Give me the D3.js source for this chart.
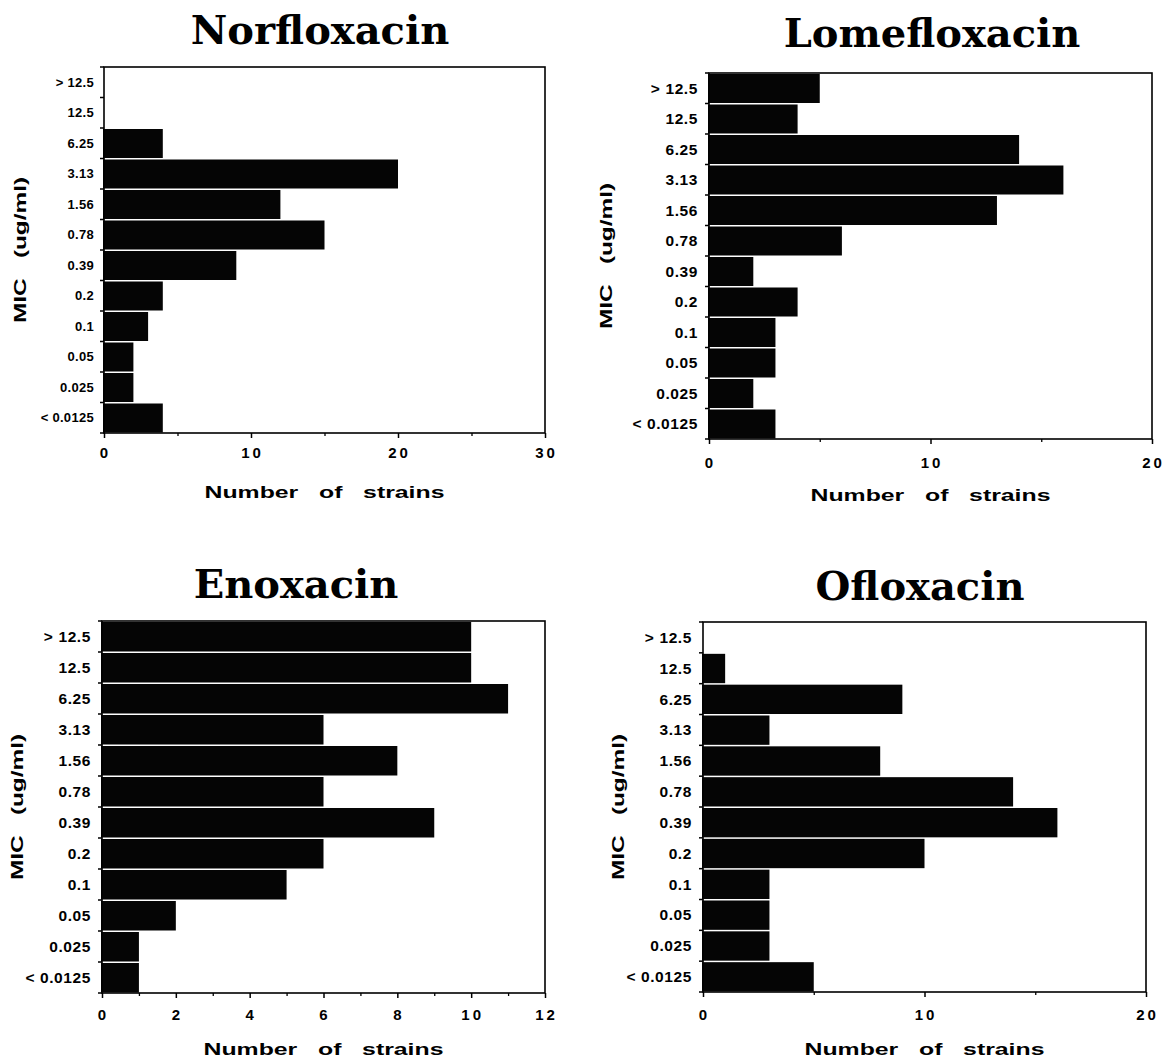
<!DOCTYPE html>
<html>
<head>
<meta charset="utf-8">
<script src="https://cdn.jsdelivr.net/npm/d3@7"></script>
<style>
  body { margin: 0; background: #fff; }
  svg { display: block; }
  .yLabel { font-family: "Liberation Sans", Arial, sans-serif; font-weight: bold; fill: #000; }
  .xLabel { font-family: "Liberation Sans", Arial, sans-serif; font-weight: bold; font-size: 15px; letter-spacing: 3px; fill: #000; }
  .axisTitle { font-family: "Liberation Sans", Arial, sans-serif; font-weight: bold; font-size: 17px; white-space: pre; fill: #000; }
  .drugTitle { font-family: "DejaVu Serif", "Liberation Serif", serif; font-weight: bold; font-size: 40px; fill: #000; }
</style>
</head>
<body>
<div class="chart"></div>
<script>
// MIC categories, top to bottom
const micLabels = ['> 12.5', '12.5', '6.25', '3.13', '1.56', '0.78', '0.39', '0.2', '0.1', '0.05', '0.025', '< 0.0125'];

// number of strains per MIC
const norfloxacin = [0, 0, 4, 20, 12, 15, 9, 4, 3, 2, 2, 4];
const lomefloxacin = [5, 4, 14, 16, 13, 6, 2, 4, 3, 3, 2, 3];
const enoxacin = [10, 10, 11, 6, 8, 6, 9, 6, 5, 2, 1, 1];
const ofloxacin = [0, 1, 9, 3, 8, 14, 16, 10, 3, 3, 3, 5];

// x tick labels
const ticks30 = [0, 10, 20, 30];
const ticks20 = [0, 10, 20];
const ticks12 = [0, 2, 4, 6, 8, 10, 12];
const minor30 = [5, 15, 25];
const minor20 = [5, 15];
const minor12 = [1, 3, 5, 7, 9, 11];

const panels = [
    { title: 'Norfloxacin', values: norfloxacin, xMax: 30, ticks: ticks30, minor: minor30,
      left: 104, right: 545, top: 67, bottom: 433, titleX: 320, titleY: 44,
      labelRight: 94, labelSize: 13, labelSpacing: 0.3, tickY: 458, xTitleY: 498, yTitleX: 20 },
    { title: 'Lomefloxacin', values: lomefloxacin, xMax: 20, ticks: ticks20, minor: minor20,
      left: 709, right: 1152, top: 73, bottom: 439, titleX: 932, titleY: 47,
      labelRight: 698, labelSize: 15.5, labelSpacing: 0.6, tickY: 468, xTitleY: 501, yTitleX: 606 },
    { title: 'Enoxacin', values: enoxacin, xMax: 12, ticks: ticks12, minor: minor12,
      left: 102, right: 545, top: 621, bottom: 993, titleX: 296, titleY: 598,
      labelRight: 91, labelSize: 15.5, labelSpacing: 0.6, tickY: 1020, xTitleY: 1055, yTitleX: 17 },
    { title: 'Ofloxacin', values: ofloxacin, xMax: 20, ticks: ticks20, minor: minor20,
      left: 703, right: 1146, top: 622, bottom: 992, titleX: 920, titleY: 600,
      labelRight: 692, labelSize: 15.5, labelSpacing: 0.6, tickY: 1020, xTitleY: 1055, yTitleX: 618 }
];

const svg = d3.select('.chart')
    .append('svg')
    .attr('width', 1168)
    .attr('height', 1063);

svg.append('rect').attr('width', 1168).attr('height', 1063).attr('fill', '#fff');

panels.forEach(function (p) {
    let g = svg.append('g').attr('class', 'panel');

    let xScale = d3.scaleLinear()
        .domain([0, p.xMax])
        .range([p.left, p.right]);

    let yScale = d3.scaleBand()
        .domain(micLabels)
        .range([p.top, p.bottom])
        .padding(0);

    // bars
    g.selectAll('.bar')
        .data(micLabels.map((d, i) => ({ label: d, value: p.values[i] })))
        .enter()
        .append('rect')
        .attr('class', 'bar')
        .attr('x', xScale(0) - 1)
        .attr('y', d => yScale(d.label) + 1)
        .attr('width', d => d.value > 0 ? xScale(d.value) - xScale(0) + 1 : 0)
        .attr('height', yScale.bandwidth() - 1.5)
        .attr('fill', '#050505');

    // frame
    g.append('rect')
        .attr('x', p.left)
        .attr('y', p.top)
        .attr('width', p.right - p.left)
        .attr('height', p.bottom - p.top)
        .attr('fill', 'none')
        .attr('stroke', '#000')
        .attr('stroke-width', 1.6);

    // left ticks on band edges
    let edges = micLabels.map(d => yScale(d)).concat([p.bottom]);
    g.selectAll('.yTick')
        .data(edges)
        .enter()
        .append('line')
        .attr('x1', p.left - 4)
        .attr('x2', p.left)
        .attr('y1', d => d)
        .attr('y2', d => d)
        .attr('stroke', '#000')
        .attr('stroke-width', 1.5);

    // y labels
    g.selectAll('.yLabel')
        .data(micLabels)
        .enter()
        .append('text')
        .attr('class', 'yLabel')
        .attr('x', p.labelRight)
        .attr('y', d => yScale(d) + yScale.bandwidth() / 2)
        .attr('dy', '0.36em')
        .attr('text-anchor', 'end')
        .attr('font-size', p.labelSize)
        .attr('letter-spacing', p.labelSpacing)
        .text(d => d);

    // x axis ticks
    let gx = g.append('g')
        .attr('transform', 'translate(0,' + p.bottom + ')')
        .call(d3.axisBottom(xScale).tickValues(p.ticks).tickSize(5).tickFormat(''));
    gx.select('.domain').remove();
    gx.selectAll('line').attr('stroke-width', 1.5);

    let gxMinor = g.append('g')
        .attr('transform', 'translate(0,' + p.bottom + ')')
        .call(d3.axisBottom(xScale).tickValues(p.minor).tickSize(3).tickFormat(''));
    gxMinor.select('.domain').remove();
    gxMinor.selectAll('line').attr('stroke-width', 1.3);

    g.selectAll('.xLabel')
        .data(p.ticks)
        .enter()
        .append('text')
        .attr('class', 'xLabel')
        .attr('x', d => xScale(d) + 1.5)
        .attr('y', p.tickY)
        .attr('text-anchor', 'middle')
        .text(d => d);

    // axis titles (wide, extended lettering as in the original)
    g.append('text')
        .attr('class', 'axisTitle')
        .attr('x', (p.left + p.right) / 2 - 120)
        .attr('y', p.xTitleY)
        .attr('textLength', 240)
        .attr('lengthAdjust', 'spacingAndGlyphs')
        .text('Number   of   strains');

    g.append('text')
        .attr('class', 'axisTitle')
        .attr('transform', 'translate(' + p.yTitleX + ',' + ((p.top + p.bottom) / 2) + ') rotate(-90)')
        .attr('x', -73)
        .attr('dy', '0.36em')
        .attr('textLength', 146)
        .attr('lengthAdjust', 'spacingAndGlyphs')
        .text('MIC   (ug/ml)');

    // drug title
    g.append('text')
        .attr('class', 'drugTitle')
        .attr('x', p.titleX)
        .attr('y', p.titleY)
        .attr('text-anchor', 'middle')
        .text(p.title);
});
</script>
</body>
</html>
